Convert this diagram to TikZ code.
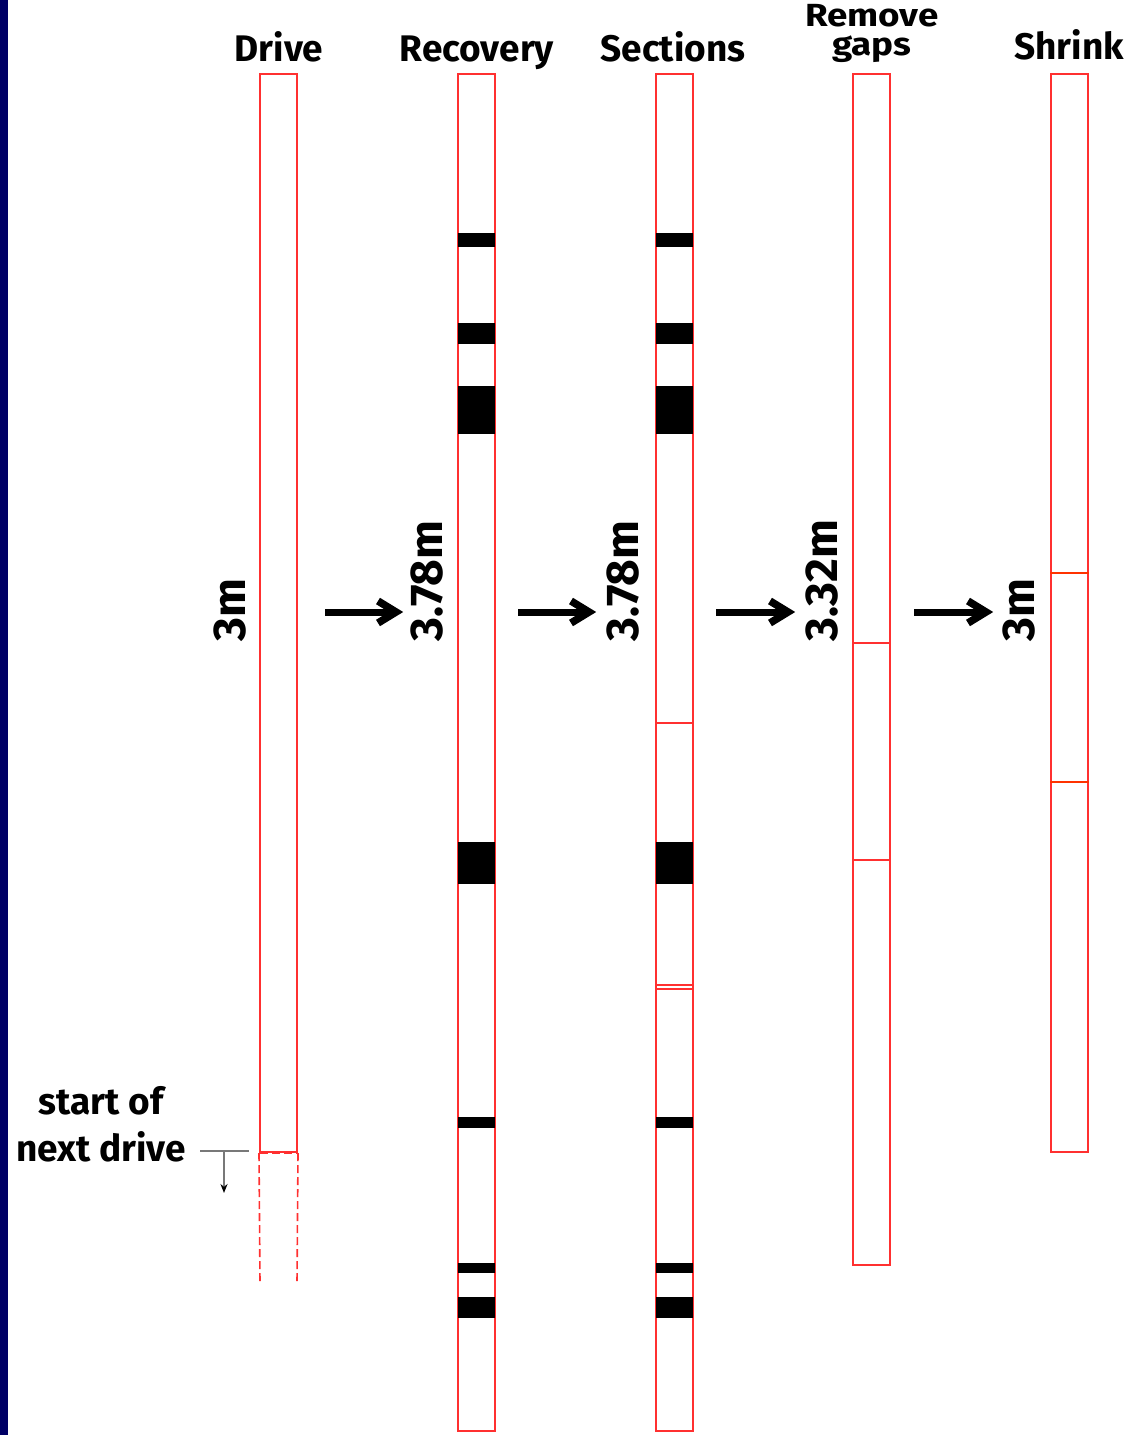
\documentclass[tikz,border=0pt]{standalone}
\usepackage{fontspec}
\setmainfont{Fira Sans}
\newfontfamily\widefira{Fira Sans}[FakeStretch=1.15]
\usetikzlibrary{arrows.meta}
\definecolor{navy}{RGB}{0,0,102}
\definecolor{barred}{RGB}{255,48,48}
\definecolor{orred}{RGB}{255,51,0}
\definecolor{leadgrey}{RGB}{120,120,120}
\begin{document}
\begin{tikzpicture}[x=1pt,y=-1pt,
  bar/.style={draw=barred, line width=2pt, fill=white, minimum width=37pt, inner sep=0pt, anchor=north},
  band/.style={fill=black},
  divider/.style={draw=barred, line width=2pt},
  ghost/.style={draw=barred, line width=1.6pt, dash pattern=on 8pt off 4pt},
  title/.style={font=\bfseries\fontsize{37}{29}\selectfont, anchor=base, inner sep=0pt},
  len/.style={font=\bfseries\fontsize{46}{50}\selectfont, rotate=90, anchor=base west, inner sep=0pt},
  shaft/.style={line width=7pt},
  chevron/.style={line width=7.5pt, miter limit=10},
  leader/.style={draw=leadgrey, line width=1.5pt}]
\useasboundingbox (0,0) rectangle (1140,1435);
\fill[white] (0,0) rectangle (1140,1435);
\fill[navy] (0,0) rectangle (8,1435);

% bars
\node[bar, minimum height=1078pt] (drive) at (278.5,73) {};
\node[bar, minimum height=1357pt] (recov) at (476.5,73) {};
\node[bar, minimum height=1357pt] (sect) at (674.5,73) {};
\node[bar, minimum height=1191pt] (gaps) at (871.5,73) {};
\node[bar, minimum height=1078pt] (shrink) at (1069.5,73) {};

% titles
\node[title] (tdrive) at (279,61) {Drive};
\node[title] (trecov) at (477,61) {Recovery};
\node[title] (tsect) at (673,61) {Sections};
\node[title, font=\widefira\bfseries\fontsize{32}{29}\selectfont, align=center] (tgaps) at (872,55) {Remove\\gaps};
\node[title] (tshrink) at (1069,59) {Shrink};

% black bands (recovery and sections)
\foreach \bx in {458,656}{
  \foreach \ya/\yb in {233/247, 323/344, 386/434, 842/884, 1117/1128, 1263/1273, 1297/1318}{
    \fill[band] (\bx,\ya) rectangle (\bx+37,\yb);
  }
}

% dividers
\draw[divider] (sect.west |- 0,723) -- (sect.east |- 0,723);
\draw[divider] (sect.west |- 0,985) -- (sect.east |- 0,985);
\draw[divider] (sect.west |- 0,988.5) -- (sect.east |- 0,988.5);
\draw[divider] (gaps.west |- 0,643) -- (gaps.east |- 0,643);
\draw[divider] (gaps.west |- 0,860) -- (gaps.east |- 0,860);
\draw[divider, draw=orred] (shrink.west |- 0,573) -- (shrink.east |- 0,573);
\draw[divider, draw=orred] (shrink.west |- 0,782) -- (shrink.east |- 0,782);

% length labels
\node[len] (ldrive) at (245,642) {3m};
\node[len] (lrecov) at (442,642) {3.78m};
\node[len] (lsect) at (638,642) {3.78m};
\node[len] (lgaps) at (837,642) {3.32m};
\node[len] (lshrink) at (1034,642) {3m};

% big arrows: shaft plus chevron head
\foreach \s/\e in {325/396, 518/589, 716/788, 914/986}{
  \coordinate (as\s) at (\s,612);
  \coordinate (ae\s) at (\e,612);
  \draw[shaft] (as\s) -- ([xshift=-4pt]ae\s);
  \draw[chevron] ([shift={(-18,-11)}]ae\s) -- (ae\s) -- ([shift={(-18,11)}]ae\s);
}

% next drive ghost
\coordinate (g1) at (260,1153); \coordinate (g2) at (297,1153);
\coordinate (g3) at (260,1283); \coordinate (g4) at (297,1283);
\draw[ghost] (g1) -- (g2);
\draw[ghost] (drive.south west) -- (g3);
\draw[ghost] (drive.south east) -- (g4);

% start of next drive label
\node[font=\bfseries\fontsize{37}{47}\selectfont, align=center, anchor=base, inner sep=0pt] (lnext) at (101,1161) {start of\\next drive};
\coordinate (l1) at (200,1151); \coordinate (l2) at (249,1151);
\coordinate (l3) at (224,1151); \coordinate (l4) at (224,1193);
\draw[leader] (l1) -- (l2);
\draw[leader, -{Stealth[length=9pt,width=7pt,black]}] (l3) -- (l4);
\end{tikzpicture}
\end{document}
